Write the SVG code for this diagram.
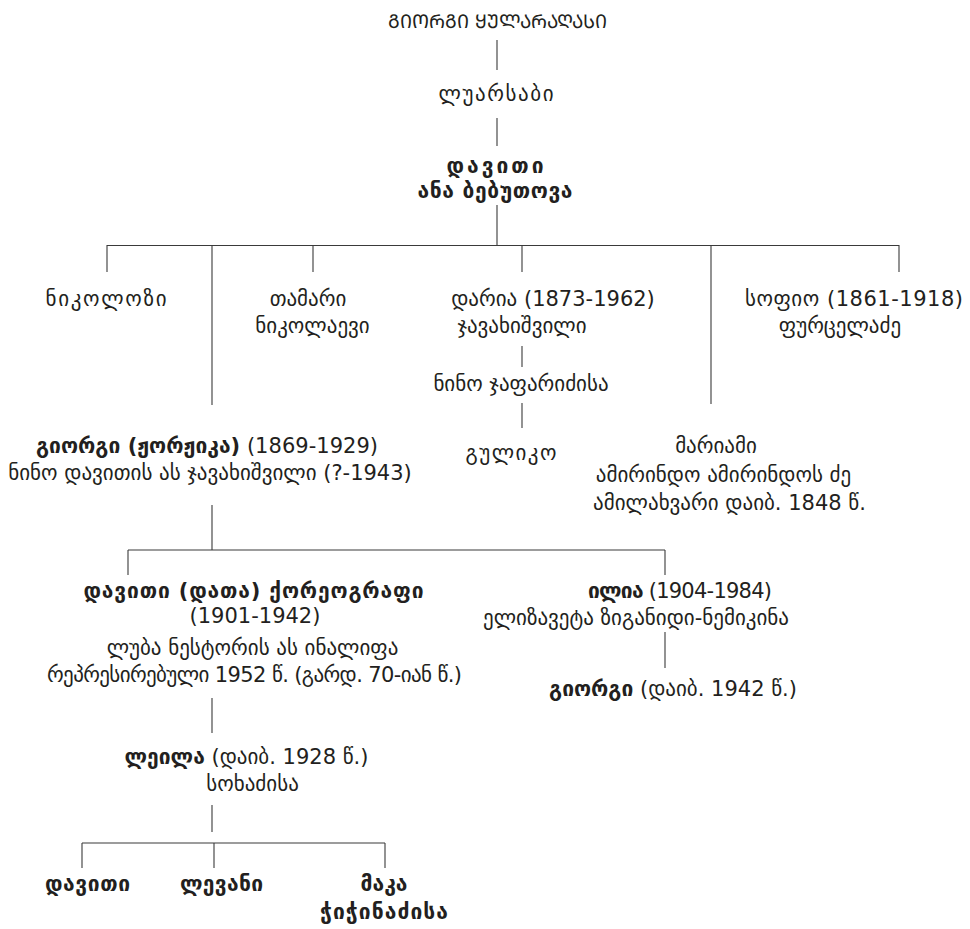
<svg xmlns="http://www.w3.org/2000/svg" width="970" height="929" viewBox="0 0 970 929">
<style>
text{font-family:"DejaVu Sans","Noto Sans",sans-serif;font-size:21px;fill:#231f20;text-anchor:middle;}
.b{font-weight:bold;}
.t{font-size:19px;}
#connectors line{stroke:#3a3a3a;stroke-width:1.1;}
</style>
<rect width="970" height="929" fill="#fff"/>
<g id="connectors">
<line x1="497" y1="40" x2="497" y2="70"/>
<line x1="497" y1="118" x2="497" y2="146"/>
<line x1="497" y1="205" x2="497" y2="246"/>
<line x1="107" y1="245.5" x2="899" y2="245.5"/>
<line x1="107" y1="245" x2="107" y2="272"/>
<line x1="212" y1="245" x2="212" y2="405"/>
<line x1="313" y1="245" x2="313" y2="272"/>
<line x1="522" y1="245" x2="522" y2="272"/>
<line x1="711" y1="245" x2="711" y2="404"/>
<line x1="899" y1="245" x2="899" y2="272"/>
<line x1="522" y1="346" x2="522" y2="367"/>
<line x1="522" y1="403" x2="522" y2="428"/>
<line x1="212" y1="505" x2="212" y2="550"/>
<line x1="128" y1="550" x2="665" y2="550"/>
<line x1="128" y1="550" x2="128" y2="575"/>
<line x1="665" y1="550" x2="665" y2="575"/>
<line x1="665" y1="632" x2="665" y2="668"/>
<line x1="212" y1="698" x2="212" y2="733"/>
<line x1="212" y1="805" x2="212" y2="832"/>
<line x1="82" y1="843" x2="385" y2="843"/>
<line x1="82" y1="843" x2="82" y2="868"/>
<line x1="214" y1="843" x2="214" y2="868"/>
<line x1="385" y1="843" x2="385" y2="868"/>
</g>
<g id="n-root"><text class="t" x="497.5" y="28">&#x1C92;&#x1C98;&#x1C9D;&#x1CA0;&#x1C92;&#x1C98; &#x1CA7;&#x1CA3;&#x1C9A;&#x1C90;&#x1CA0;&#x1C90;&#x1CA6;&#x1C90;&#x1CA1;&#x1C98;</text></g>
<g id="n-luarsabi"><text x="496" y="101" textLength="115" lengthAdjust="spacing">ლუარსაბი</text></g>
<g id="n-daviti1"><text class="b" x="495" y="173" textLength="97" lengthAdjust="spacing">დავითი</text><text class="b" x="495" y="198" textLength="155" lengthAdjust="spacing">ანა ბებუთოვა</text></g>
<g id="n-nikolozi"><text x="106" y="306" textLength="121" lengthAdjust="spacing">ნიკოლოზი</text></g>
<g id="n-tamari"><text x="308" y="306">თამარი</text><text x="312.5" y="333">ნიკოლაევი</text></g>
<g id="n-daria"><text x="553" y="306">დარია (1873-1962)</text><text x="522" y="333">ჯავახიშვილი</text></g>
<g id="n-sofio"><text x="854" y="306" textLength="218" lengthAdjust="spacing">სოფიო (1861-1918)</text><text x="840" y="333">ფურცელაძე</text></g>
<g id="n-nino"><text x="521" y="391">ნინო ჯაფარიძისა</text></g>
<g id="n-guliko"><text x="511" y="460" textLength="91" lengthAdjust="spacing">გულიკო</text></g>
<g id="n-giorgi"><text x="207" y="453" textLength="342" lengthAdjust="spacing"><tspan class="b">გიორგი (ჟორჟიკა)</tspan> (1869-1929)</text><text x="210" y="480">ნინო დავითის ას ჯავახიშვილი (?-1943)</text></g>
<g id="n-mariami"><text x="716" y="453">მარიამი</text><text x="723.5" y="482">ამირინდო ამირინდოს ძე</text><text x="729.5" y="510">ამილახვარი დაიბ. 1848 წ.</text></g>
<g id="n-daviti2"><text class="b" x="253.5" y="598" textLength="340" lengthAdjust="spacing">დავითი (დათა) ქორეოგრაფი</text><text x="255" y="623">(1901-1942)</text><text x="252.5" y="655">ლუბა ნესტორის ას ინალიფა</text><text x="254.5" y="682" textLength="415" lengthAdjust="spacing">რეპრესირებული 1952 წ. (გარდ. 70-იან წ.)</text></g>
<g id="n-ilia"><text x="680" y="598" textLength="184" lengthAdjust="spacing"><tspan class="b">ილია</tspan> (1904-1984)</text><text x="636" y="625">ელიზავეტა ზიგანიდი-ნემიკინა</text></g>
<g id="n-giorgi2"><text x="673" y="696"><tspan class="b">გიორგი</tspan> (დაიბ. 1942 წ.)</text></g>
<g id="n-leila"><text x="246.5" y="764"><tspan class="b">ლეილა</tspan> (დაიბ. 1928 წ.)</text><text x="252.5" y="791">სოხაძისა</text></g>
<g id="n-daviti3"><text class="b" x="87.5" y="891" textLength="85" lengthAdjust="spacing">დავითი</text></g>
<g id="n-levani"><text class="b" x="221.5" y="891" textLength="83" lengthAdjust="spacing">ლევანი</text></g>
<g id="n-maka"><text class="b" x="384" y="891">მაკა</text><text class="b" x="384" y="919" textLength="128" lengthAdjust="spacing">ჭიჭინაძისა</text></g>
</svg>
